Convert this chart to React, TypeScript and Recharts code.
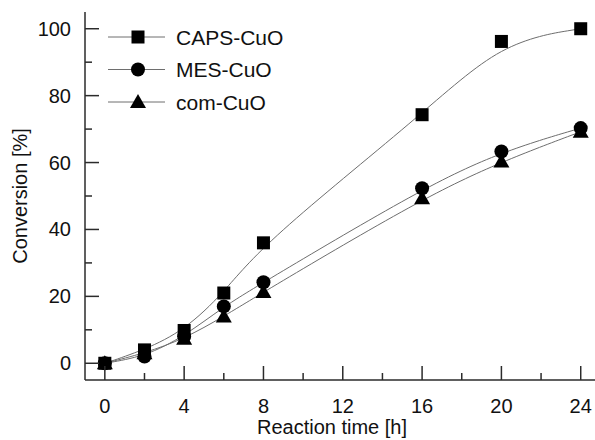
import React from "react";
import { LineChart, Line, XAxis, YAxis } from "recharts";

const hours = [0, 2, 4, 6, 8, 16, 20, 24];
const capsCuO = [0, 4, 9.8, 21, 36, 74.3, 96.2, 100];
const mesCuO = [0, 2, 8, 17, 24.2, 52.3, 63.3, 70.3];
const comCuO = [0, 3, 7.3, 14, 21.3, 49.3, 60.3, 69.2];

const xTicks = [0, 2, 4, 6, 8, 10, 12, 14, 16, 18, 20, 22, 24];
const yTicks = [0, 10, 20, 30, 40, 50, 60, 70, 80, 90, 100];

const data = hours.map((h, i) => ({
  h,
  caps: capsCuO[i],
  mes: mesCuO[i],
  com: comCuO[i],
}));

const FONT = "'Liberation Sans', Arial, sans-serif";
const AXIS = "#2b2b2b";
const LINE = "#6e6e6e";

const Marker = ({ kind, cx, cy }: { kind: string; cx: number; cy: number }) => {
  if (kind === "square")
    return <rect x={cx - 6.5} y={cy - 6.5} width={13} height={13} fill="#000" />;
  if (kind === "circle") return <circle cx={cx} cy={cy} r={7} fill="#000" />;
  return (
    <polygon
      points={`${cx},${cy - 8} ${cx - 8},${cy + 6} ${cx + 8},${cy + 6}`}
      fill="#000"
    />
  );
};

const series = [
  { key: "caps", name: "CAPS-CuO", kind: "square" },
  { key: "mes", name: "MES-CuO", kind: "circle" },
  { key: "com", name: "com-CuO", kind: "triangle" },
];

const YTick = (props: any) => {
  const { y, payload } = props;
  const major = payload.value % 20 === 0;
  return (
    <g>
      <line x1={85} x2={major ? 99 : 92} y1={y} y2={y} stroke={AXIS} strokeWidth={1.5} />
      {major && (
        <text x={71} y={y} dy={7} textAnchor="end" fontSize={20} fontFamily={FONT} fill="#111">
          {payload.value}
        </text>
      )}
    </g>
  );
};

const XTick = (props: any) => {
  const { x, payload } = props;
  const major = payload.value % 4 === 0;
  return (
    <g>
      <line x1={x} x2={x} y1={380} y2={major ? 366 : 373} stroke={AXIS} strokeWidth={1.5} />
      {major && (
        <text x={x} y={413} textAnchor="middle" fontSize={20} fontFamily={FONT} fill="#111">
          {payload.value}
        </text>
      )}
    </g>
  );
};

const LegendBox = () => (
  <svg
    width={220}
    height={100}
    style={{ position: "absolute", left: 108, top: 25, overflow: "visible" }}
  >
    {series.map((s, i) => {
      const y = 12 + i * 32.5;
      return (
        <g key={s.key}>
          <line x1={0} x2={57} y1={y} y2={y} stroke={LINE} strokeWidth={1} />
          <Marker kind={s.kind} cx={30} cy={y} />
          <text x={68} y={y} dy={7.5} fontSize={21} fontFamily={FONT} fill="#111">
            {s.name}
          </text>
        </g>
      );
    })}
  </svg>
);

export default function App() {
  return (
    <div style={{ position: "absolute", left: 0, top: 0, width: 595, height: 440, background: "#fff" }}>
      <LineChart width={595} height={440} data={data} margin={{ top: 12, right: 0, bottom: 0, left: 0 }}>
        <XAxis
          dataKey="h"
          type="number"
          domain={[-1, 24.72]}
          ticks={xTicks}
          interval={0}
          height={60}
          stroke={AXIS}
          strokeWidth={1.5}
          tickLine={false}
          tick={<XTick />}
          label={{
            value: "Reaction time [h]",
            position: "insideBottom",
            offset: 6,
            fontSize: 20,
            fontFamily: FONT,
            fill: "#111",
            dx: -8,
          }}
        />
        <XAxis
          xAxisId="top"
          orientation="top"
          dataKey="h"
          type="number"
          domain={[-1, 24.72]}
          height={0}
          tick={false}
          tickLine={false}
          stroke={AXIS}
          strokeWidth={1.5}
        />
        <YAxis
          type="number"
          domain={[-5, 105]}
          ticks={yTicks}
          interval={0}
          width={85}
          stroke={AXIS}
          strokeWidth={1.5}
          tickLine={false}
          tick={<YTick />}
          label={{
            content: ({ viewBox }: any) => {
              const cy = viewBox.y + viewBox.height / 2;
              return (
                <text
                  x={27}
                  y={cy}
                  transform={`rotate(-90, 27, ${cy})`}
                  textAnchor="middle"
                  fontSize={20}
                  fontFamily={FONT}
                  fill="#111"
                >
                  Conversion [%]
                </text>
              );
            },
          }}
        />
        {series.map((s) => (
          <Line
            key={s.key}
            dataKey={s.key}
            name={s.name}
            type="basis"
            stroke={LINE}
            strokeWidth={1}
            isAnimationActive={false}
            dot={(p: any) => <Marker key={`${s.key}-${p.index}`} kind={s.kind} cx={p.cx} cy={p.cy} />}
            activeDot={false}
          />
        ))}
      </LineChart>
      <LegendBox />
    </div>
  );
}
